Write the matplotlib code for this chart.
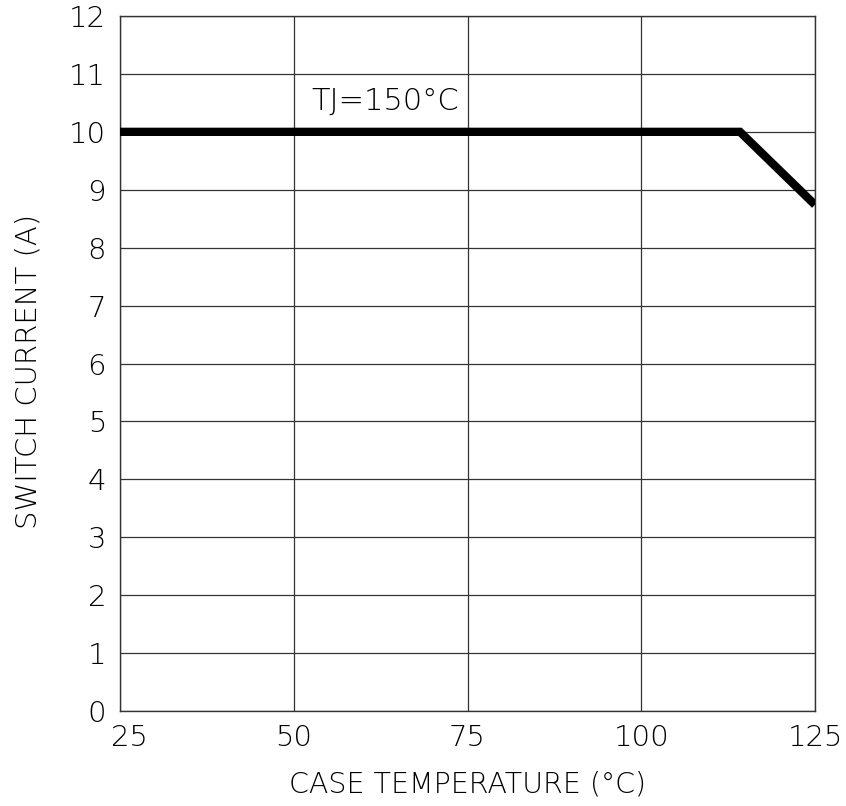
import matplotlib
matplotlib.use("Agg")
import matplotlib.pyplot as plt
from matplotlib.transforms import ScaledTranslation

temps = [25, 114.2, 125]
current = [10, 10, 8.74]
xticks = [25, 50, 75, 100, 125]
yticks = list(range(0, 13))
annot = "TJ=150°C"

plt.rcParams['font.family'] = ['DejaVu Sans']
fig = plt.figure(figsize=(8.46, 8.06), dpi=100)
ax = fig.add_axes([120/846, 1-711/806, (815-120)/846, (711-16)/806])
ax.plot(temps, current, color='black', lw=6, solid_capstyle='butt', solid_joinstyle='miter', zorder=3)
ax.set_xlim(25, 125)
ax.set_ylim(0, 12)
ax.set_xticks(xticks)
ax.set_yticks(yticks)
ax.grid(True, color='#333333', lw=0.9)
for s in ax.spines.values():
    s.set_color('#333333'); s.set_linewidth(1.0)
ax.tick_params(axis='y', length=0, labelsize=21, pad=10)
ax.tick_params(axis='x', length=0, labelsize=21, pad=9)
for lab in ax.get_xticklabels():
    lab.set_fontweight('light')
for lab in ax.get_yticklabels():
    lab.set_fontweight('light')
xl0 = ax.get_xticklabels()[0]
xl0.set_transform(xl0.get_transform() + ScaledTranslation(9/100, 0, fig.dpi_scale_trans))
ax.set_xlabel("CASE TEMPERATURE (°C)", fontsize=20.5, fontweight='light', labelpad=14)
ax.set_ylabel("SWITCH CURRENT (A)", fontsize=21, fontweight='light')
ax.yaxis.set_label_coords(-0.111, 0.4885)
ax.text(52.6, 10.52, annot, fontsize=22, fontweight='light', va='center', ha='left')
fig.savefig("out.png", dpi=100)
